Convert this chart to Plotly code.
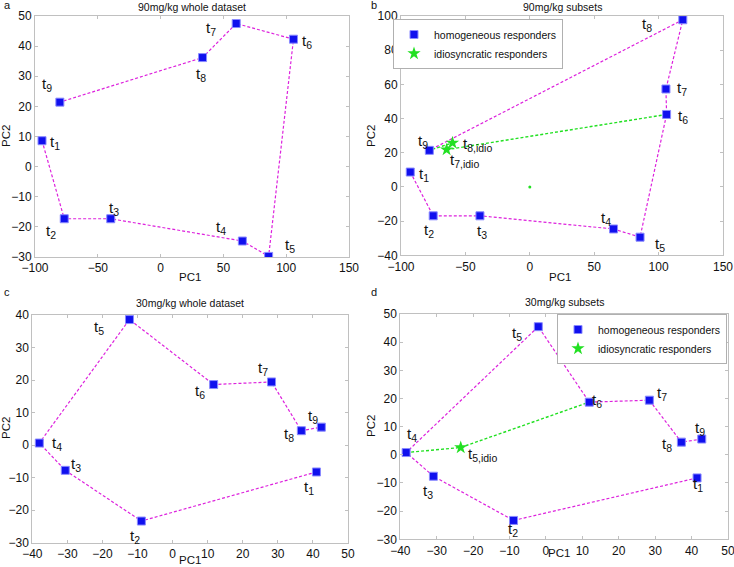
import plotly.graph_objects as go

# ---------------- data ----------------
labels = ["1", "2", "3", "4", "5", "6", "7", "8", "9"]

a_x = [-94.4, -76.7, -39.7, 65.1, 86.0, 105.8, 60.2, 33.4, -80.2]
a_y = [8.6, -17.3, -17.3, -24.7, -29.8, 42.3, 47.5, 36.2, 21.4]

b_x = [-92.8, -75.0, -38.7, 65.0, 85.6, 106.2, 105.7, 118.8, -78.0]
b_y = [8.7, -16.9, -16.9, -24.6, -29.4, 42.4, 57.3, 97.8, 21.4]
b_idio_labels = ["7,idio", "8,idio"]
b_idio_x = [-64.6, -60.0]
b_idio_y = [21.8, 25.8]
b_origin_x = [0]
b_origin_y = [0]

c_x = [41.0, -8.9, -30.6, -38.0, -12.3, 11.7, 28.2, 36.7, 42.4]
c_y = [-8.3, -23.4, -7.8, 0.6, 38.6, 18.6, 19.4, 4.4, 5.5]

d_x = [41.5, -8.9, -30.9, -38.4, -2.1, 11.9, 28.4, 37.2, 42.8]
d_y = [-8.2, -23.3, -7.6, 0.8, 45.5, 18.7, 19.4, 4.5, 5.6]
d_idio_labels = ["5,idio"]
d_idio_x = [-23.4]
d_idio_y = [2.6]

titles = ["90mg/kg whole dataset", "90mg/kg subsets",
          "30mg/kg whole dataset", "30mg/kg subsets"]
panel_letters = ["a", "b", "c", "d"]
legend_names = ["homogeneous responders", "idiosyncratic responders"]

# label offsets in pixels (dx right, dy down)
a_off = [(13, 2), (-13, 13), (3, -10), (-21, -14), (21, -11), (14, 2), (-25, 5), (-2, 17), (-13, -18)]
b_off = [(14, 2), (-4, 15), (2, 16), (-8, -10), (20, 7), (16, 2), (16, 0), (-36, 5), (-6, -9)]
b_idio_off = [(18, 11), (25, 2)]
c_off = [(-7, 16), (-6, 15), (11, -6), (18, 0), (-30, 8), (-14, 7), (-9, -13), (-12, 4), (-8, -11)]
d_off = [(1, 7), (-1, 9), (-5, 15), (6, -18), (-21, 7), (8, -2), (13, -7), (-14, 2), (-2, -11)]
d_idio_off = [(22, 7)]

# ---------------- style ----------------
W, H = 734, 567
MAG = "#dd22dd"
GRN = "#22e022"
BLUE = "#1010ee"
BLUE_EDGE = "#8a8aff"
AXC = "#c0c0c0"
FONT = "Liberation Sans, Arial, sans-serif"

fig = go.Figure()

def px_dom(x0, x1):
    return [x0 / W, x1 / W]

def py_dom(y_top, y_bot):
    return [1 - y_bot / H, 1 - y_top / H]

panels = [
    dict(xd=px_dom(35, 349), yd=py_dom(16, 257), xr=[-100, 150], yr=[-30, 50], xdt=50, ydt=10,
         pc1=(190, 277), pc2=(6, 136), title_y=7),
    dict(xd=px_dom(401, 723), yd=py_dom(16, 255.3), xr=[-100, 150], yr=[-40, 100], xdt=50, ydt=20,
         pc1=(560, 277), pc2=(371, 136), title_y=7),
    dict(xd=px_dom(32.3, 348), yd=py_dom(315, 542.5), xr=[-40, 50], yr=[-30, 40], xdt=10, ydt=10,
         pc1=(190, 560), pc2=(6, 428), title_y=303),
    dict(xd=px_dom(400.3, 728), yd=py_dom(314, 539.3), xr=[-40, 50], yr=[-30, 50], xdt=10, ydt=10,
         pc1=(559, 553), pc2=(371, 426), title_y=302),
]

layout = dict(width=W, height=H, margin=dict(l=0, r=0, t=0, b=0, autoexpand=False),
              paper_bgcolor="white", plot_bgcolor="white",
              font=dict(family=FONT, color="#111111"), showlegend=True)
annotations = []

for i, p in enumerate(panels):
    n = "" if i == 0 else str(i + 1)
    layout["xaxis" + n] = dict(
        domain=p["xd"], range=p["xr"], dtick=p["xdt"], tick0=0, anchor="y" + n,
        showline=True, linecolor=AXC, linewidth=1, mirror="ticks", automargin=False,
        ticks="inside", ticklen=3, tickcolor=AXC, showgrid=False, zeroline=False,
        ticklabeloverflow="allow",
        tickfont=dict(size=12, color="#111"))
    layout["yaxis" + n] = dict(
        domain=p["yd"], range=p["yr"], dtick=p["ydt"], tick0=0, anchor="x" + n,
        showline=True, linecolor=AXC, linewidth=1, mirror="ticks", automargin=False,
        ticks="inside", ticklen=3, tickcolor=AXC, showgrid=False, zeroline=False,
        tickfont=dict(size=12, color="#111"))
    xc = (p["xd"][0] + p["xd"][1]) / 2
    annotations.append(dict(text=titles[i], xref="paper", yref="paper", x=xc,
                            y=1 - p["title_y"] / H, yanchor="middle", xanchor="center",
                            showarrow=False, font=dict(size=10.5, color="#111")))
    annotations.append(dict(text="PC1", xref="paper", yref="paper", x=p["pc1"][0] / W,
                            y=1 - p["pc1"][1] / H, xanchor="center", yanchor="middle",
                            showarrow=False, font=dict(size=11.5, color="#111")))
    annotations.append(dict(text="PC2", xref="paper", yref="paper", x=p["pc2"][0] / W,
                            y=1 - p["pc2"][1] / H, xanchor="center", yanchor="middle",
                            textangle=-90, showarrow=False, font=dict(size=11.5, color="#111")))

letter_pos = [(2, 5), (369, 5), (2, 292), (369, 292)]
for letter, (lx, ly) in zip(panel_letters, letter_pos):
    annotations.append(dict(text=letter, xref="paper", yref="paper", x=lx / W, y=1 - ly / H,
                            xanchor="left", yanchor="middle", showarrow=False, font=dict(size=11)))

line_style = dict(color=MAG, width=1.2, dash="3px,2px")
green_style = dict(color=GRN, width=1.4, dash="3px,2px")
sq_marker = dict(symbol="square", size=8, color=BLUE, line=dict(color=BLUE_EDGE, width=1))
star_marker = dict(symbol="star", size=10, color=GRN, line=dict(color=GRN, width=0))

def add_labels(xs, ys, labs, offs, axn):
    for x, y, lab, (dx, dy) in zip(xs, ys, labs, offs):
        annotations.append(dict(text="t<sub>" + lab + "</sub>", x=x, y=y,
                                xref="x" + axn, yref="y" + axn,
                                xshift=dx, yshift=-dy, showarrow=False,
                                font=dict(size=15, color="#111")))

# panel a
fig.add_trace(go.Scatter(x=a_x, y=a_y, mode="lines", line=line_style, xaxis="x", yaxis="y", showlegend=False))
fig.add_trace(go.Scatter(x=a_x, y=a_y, mode="markers", marker=sq_marker, xaxis="x", yaxis="y", showlegend=False))
add_labels(a_x, a_y, labels, a_off, "")

# panel b
fig.add_trace(go.Scatter(x=b_x, y=b_y, mode="lines", line=line_style, xaxis="x2", yaxis="y2", showlegend=False))
gbx = [b_x[5]] + b_idio_x + [b_x[8]]
gby = [b_y[5]] + b_idio_y + [b_y[8]]
fig.add_trace(go.Scatter(x=gbx, y=gby, mode="lines", line=green_style, xaxis="x2", yaxis="y2", showlegend=False))
fig.add_trace(go.Scatter(x=b_origin_x, y=b_origin_y, mode="markers", marker=dict(size=3, color=GRN), xaxis="x2", yaxis="y2", showlegend=False))
fig.add_trace(go.Scatter(x=b_x, y=b_y, mode="markers", marker=sq_marker, xaxis="x2", yaxis="y2",
                         name=legend_names[0], legend="legend"))
fig.add_trace(go.Scatter(x=b_idio_x, y=b_idio_y, mode="markers", marker=star_marker, xaxis="x2", yaxis="y2",
                         name=legend_names[1], legend="legend"))
add_labels(b_x, b_y, labels, b_off, "2")
add_labels(b_idio_x, b_idio_y, b_idio_labels, b_idio_off, "2")

# panel c
fig.add_trace(go.Scatter(x=c_x, y=c_y, mode="lines", line=line_style, xaxis="x3", yaxis="y3", showlegend=False))
fig.add_trace(go.Scatter(x=c_x, y=c_y, mode="markers", marker=sq_marker, xaxis="x3", yaxis="y3", showlegend=False))
add_labels(c_x, c_y, labels, c_off, "3")

# panel d
fig.add_trace(go.Scatter(x=d_x, y=d_y, mode="lines", line=line_style, xaxis="x4", yaxis="y4", showlegend=False))
gdx = [d_x[3]] + d_idio_x + [d_x[5]]
gdy = [d_y[3]] + d_idio_y + [d_y[5]]
fig.add_trace(go.Scatter(x=gdx, y=gdy, mode="lines", line=green_style, xaxis="x4", yaxis="y4", showlegend=False))
fig.add_trace(go.Scatter(x=d_x, y=d_y, mode="markers", marker=sq_marker, xaxis="x4", yaxis="y4",
                         name=legend_names[0], legend="legend2"))
fig.add_trace(go.Scatter(x=d_idio_x, y=d_idio_y, mode="markers", marker=star_marker, xaxis="x4", yaxis="y4",
                         name=legend_names[1], legend="legend2"))
add_labels(d_x, d_y, labels, d_off, "4")
add_labels(d_idio_x, d_idio_y, d_idio_labels, d_idio_off, "4")

leg_common = dict(bgcolor="white", bordercolor="#b0b0b0", borderwidth=1,
                  font=dict(size=10.5, color="#111"), xanchor="right", yanchor="top",
                  tracegroupgap=0, itemwidth=30)
layout["legend"] = dict(x=563 / W, y=1 - 19 / H, **leg_common)
layout["legend2"] = dict(x=727 / W, y=1 - 314 / H, **leg_common)
layout["annotations"] = annotations

fig.update_layout(**layout)
fig.write_html("out.html", config={"displayModeBar": False},
               post_script="document.body.style.margin='0';document.body.style.overflow='hidden';")
